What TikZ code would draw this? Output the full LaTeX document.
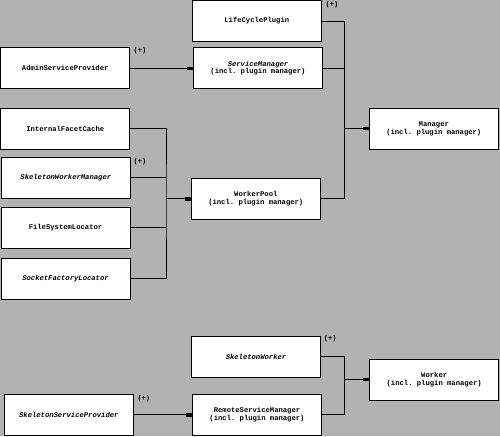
\documentclass[tikz,border=0pt]{standalone}
\usepackage{fontspec}
\setmonofont{Liberation Mono}
\usetikzlibrary{arrows.meta}
\definecolor{bggray}{gray}{0.70}
\tikzset{
  comp/.style={draw, fill=white, line width=0.8pt, minimum width=129pt,
    minimum height=41pt, inner sep=0pt, align=center,
    font=\fontsize{7.2}{7.6}\selectfont\ttfamily\bfseries},
  iface/.style={comp, font=\fontsize{7.2}{7.6}\selectfont\ttfamily\bfseries\itshape},
  plus/.style={font=\fontsize{7}{7}\selectfont\ttfamily\bfseries, inner sep=0pt},
  wire/.style={line width=0.8pt},
  uses/.style={wire, -{Rectangle[length=6pt,width=3pt]}}
}
\begin{document}
\begin{tikzpicture}[x=1pt,y=-1pt]
  \useasboundingbox[fill=bggray] (0,0) rectangle (500,436);
  % manager side
  \node[comp] (life) at (256.8,21) {LifeCyclePlugin};
  \node[comp] (svcmgr) at (258,68) {\textit{ServiceManager}\\(incl. plugin manager)};
  \node[comp] (admin) at (65.2,68) {AdminServiceProvider};
  \node[comp] (manager) at (433.8,128.7) {Manager\\(incl. plugin manager)};
  \node[comp] (cache) at (65.3,128.8) {InternalFacetCache};
  \node[iface] (skelwm) at (65.8,177.8) {SkeletonWorkerManager};
  \node[comp] (fsloc) at (65.5,227.8) {FileSystemLocator};
  \node[iface] (sockloc) at (65.5,278.8) {SocketFactoryLocator};
  \node[comp] (pool) at (255.8,198.8) {WorkerPool\\(incl. plugin manager)};
  % worker side
  \node[iface] (skelw) at (256,356.7) {SkeletonWorker};
  \node[comp] (remote) at (257,414.8) {RemoteServiceManager\\(incl. plugin manager)};
  \node[iface] (skelsp) at (68.8,414.8) {SkeletonServiceProvider};
  \node[comp] (worker) at (434.2,379.7) {Worker\\(incl. plugin manager)};
  % (+) marks
  \node[plus] (lifeplus) at (332,4.7) {(+)};
  \node[plus] (adminplus) at (140,51) {(+)};
  \node[plus] (skelwmplus) at (140,162) {(+)};
  \node[plus] (skelwplus) at (330.2,339) {(+)};
  \node[plus] (skelspplus) at (143.8,398.3) {(+)};
  % junctions
  \coordinate (mjoin) at (344.3,128.7);
  \coordinate (wjoin) at (166,198.8);
  \coordinate (kjoin) at (344.3,379.7);
  % wires
  \draw[uses] (admin) -- (svcmgr);
  \draw[wire] (life.east) -| (mjoin) |- (pool.east);
  \draw[wire] (svcmgr.east) -- (svcmgr.east -| mjoin);
  \draw[uses] (mjoin) -- (manager.west);
  \draw[wire] (cache.east) -| (wjoin) |- (sockloc.east);
  \draw[wire] (skelwm.east) -- (skelwm.east -| wjoin);
  \draw[wire] (fsloc.east) -- (fsloc.east -| wjoin);
  \draw[uses] (wjoin) -- (pool.west);
  \draw[wire] (skelw.east) -| (kjoin) |- (remote.east);
  \draw[uses] (kjoin) -- (worker.west);
  \draw[uses] (skelsp) -- (remote);
\end{tikzpicture}
\end{document}
